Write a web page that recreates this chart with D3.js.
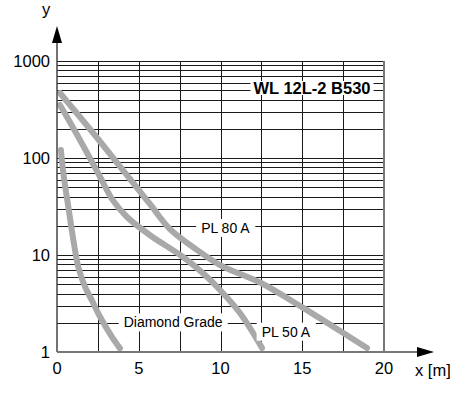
<!DOCTYPE html>
<html>
<head>
<meta charset="utf-8">
<script src="https://cdn.jsdelivr.net/npm/d3@7"></script>
<style>
  body { margin: 0; background: #fff; }
  svg { display: block; font-family: "Liberation Sans", Arial, sans-serif; }
</style>
</head>
<body>
<svg id="chart"></svg>
<script>
// Chart size and plot box
const WIDTH = 474;
const HEIGHT = 396;
const LEFT = 57, RIGHT = 384, TOP = 61, BOTTOM = 352;
const CURVE_COLOR = "#a9a9a9";
const GRID_COLOR = "#1a1a1a";

// Axis ticks
const xTicks = [0, 5, 10, 15, 20];
const xGrid = [0, 2.5, 5, 7.5, 10, 12.5, 15, 17.5, 20];
const yTicks = [1, 10, 100, 1000];

// Curves (x in m, y log)
const pl80X = [0.18, 1.1, 2.51, 4.46, 5.69, 6.91, 8.56, 9.97, 12.48, 14.98, 17.49, 18.96];
const pl80Y = [468, 305, 157, 60.8, 33.5, 18.5, 11.3, 7.88, 5.14, 2.9, 1.58, 1.1];
const pl50X = [0.18, 1.1, 2.51, 3.4, 4.3, 5.69, 7.71, 9.05, 9.97, 11.19, 12.54];
const pl50Y = [352, 190, 70, 37, 24.5, 16, 9.53, 6.22, 4.36, 2.52, 1.1];
const diamondX = [0.24, 0.39, 0.69, 1.0, 1.3, 1.71, 2.12, 2.63, 3.35, 3.85];
const diamondY = [121, 69.5, 31.5, 14.3, 7.57, 4.71, 3.44, 2.31, 1.44, 1.09];

// Curve labels
const labels = [
    { text: "PL 80 A", x: 10.3, y: 19 },
    { text: "Diamond Grade", x: 7.1, y: 2.02 },
    { text: "PL 50 A", x: 14.0, y: 1.62 }
];
const title = "WL 12L-2 B530";

const svg = d3.select("#chart")
    .attr("width", WIDTH)
    .attr("height", HEIGHT);

const x = d3.scaleLinear().domain([0, 20]).range([LEFT, RIGHT]);
const y = d3.scaleLog().domain([1, 1000]).range([BOTTOM, TOP]);

// Log grid: 1..9 in every decade, plus 1000
const yGrid = [];
[1, 10, 100].forEach(d => {
    for (let k = 1; k < 10; k++) yGrid.push(d * k);
});
yGrid.push(1000);

const grid = svg.append("g").attr("stroke", GRID_COLOR).attr("stroke-width", 1);
grid.selectAll("line.h")
    .data(yGrid)
    .enter().append("line")
    .attr("class", "h")
    .attr("x1", LEFT).attr("x2", RIGHT)
    .attr("y1", d => Math.round(y(d)) + 0.5)
    .attr("y2", d => Math.round(y(d)) + 0.5);
grid.selectAll("line.v")
    .data(xGrid.slice(1, -1))
    .enter().append("line")
    .attr("class", "v")
    .attr("x1", d => Math.round(x(d)) + 0.5)
    .attr("x2", d => Math.round(x(d)) + 0.5)
    .attr("y1", TOP).attr("y2", BOTTOM);

// Right border
svg.append("line")
    .attr("x1", x(20)).attr("x2", x(20))
    .attr("y1", TOP).attr("y2", BOTTOM)
    .attr("stroke", "#777").attr("stroke-width", 2);

// Curves
const line = d3.line()
    .x(d => x(d[0]))
    .y(d => y(d[1]))
    .curve(d3.curveCatmullRom.alpha(0.5));

[[pl80X, pl80Y], [pl50X, pl50Y], [diamondX, diamondY]].forEach(([xs, ys]) => {
    svg.append("path")
        .datum(xs.map((v, i) => [v, ys[i]]))
        .attr("d", line)
        .attr("fill", "none")
        .attr("stroke", CURVE_COLOR)
        .attr("stroke-width", 6)
        .attr("stroke-linecap", "round")
        .attr("stroke-linejoin", "round");
});

// Labels with white boxes
function boxedText(txt, cx, cy, size, weight, padX, padY) {
    const g = svg.append("g");
    const t = g.append("text")
        .attr("x", cx).attr("y", cy)
        .attr("dy", "0.36em")
        .attr("text-anchor", "middle")
        .attr("font-size", size)
        .attr("font-weight", weight)
        .attr("fill", "#000")
        .text(txt);
    const b = t.node().getBBox();
    g.insert("rect", "text")
        .attr("x", b.x - padX).attr("y", cy - b.height / 2 - padY + 1)
        .attr("width", b.width + padX * 2)
        .attr("height", b.height + padY * 2 - 2)
        .attr("fill", "#fff");
}

labels.forEach(l => boxedText(l.text, x(l.x), y(l.y), 14, "normal", 5, 2));
boxedText(title, 312, 88, 16.5, "bold", 3, -1);

// Axes with arrows
svg.append("line")
    .attr("x1", LEFT).attr("x2", LEFT)
    .attr("y1", BOTTOM).attr("y2", 40)
    .attr("stroke", "#444").attr("stroke-width", 1.5);
svg.append("line")
    .attr("x1", LEFT).attr("x2", 420)
    .attr("y1", BOTTOM).attr("y2", BOTTOM)
    .attr("stroke", "#777").attr("stroke-width", 2);
svg.append("path")
    .attr("d", `M${LEFT},26 L${LEFT - 5},43 L${LEFT + 5},43 Z`)
    .attr("fill", "#000");
svg.append("path")
    .attr("d", `M434,${BOTTOM} L417,${BOTTOM - 5} L417,${BOTTOM + 5} Z`)
    .attr("fill", "#000");

// Tick labels
svg.append("g").selectAll("text")
    .data(xTicks)
    .enter().append("text")
    .attr("x", d => x(d))
    .attr("y", 374)
    .attr("text-anchor", "middle")
    .attr("font-size", 16.5)
    .text(d => d);

svg.append("g").selectAll("text")
    .data(yTicks)
    .enter().append("text")
    .attr("x", 50)
    .attr("y", d => y(d))
    .attr("dy", "0.36em")
    .attr("text-anchor", "end")
    .attr("font-size", 16.5)
    .text(d => d);

svg.append("text")
    .attr("x", 46).attr("y", 15)
    .attr("text-anchor", "middle")
    .attr("font-size", 16.5)
    .text("y");

svg.append("text")
    .attr("x", 415).attr("y", 376)
    .attr("font-size", 16.5)
    .text("x [m]");
</script>
</body>
</html>
